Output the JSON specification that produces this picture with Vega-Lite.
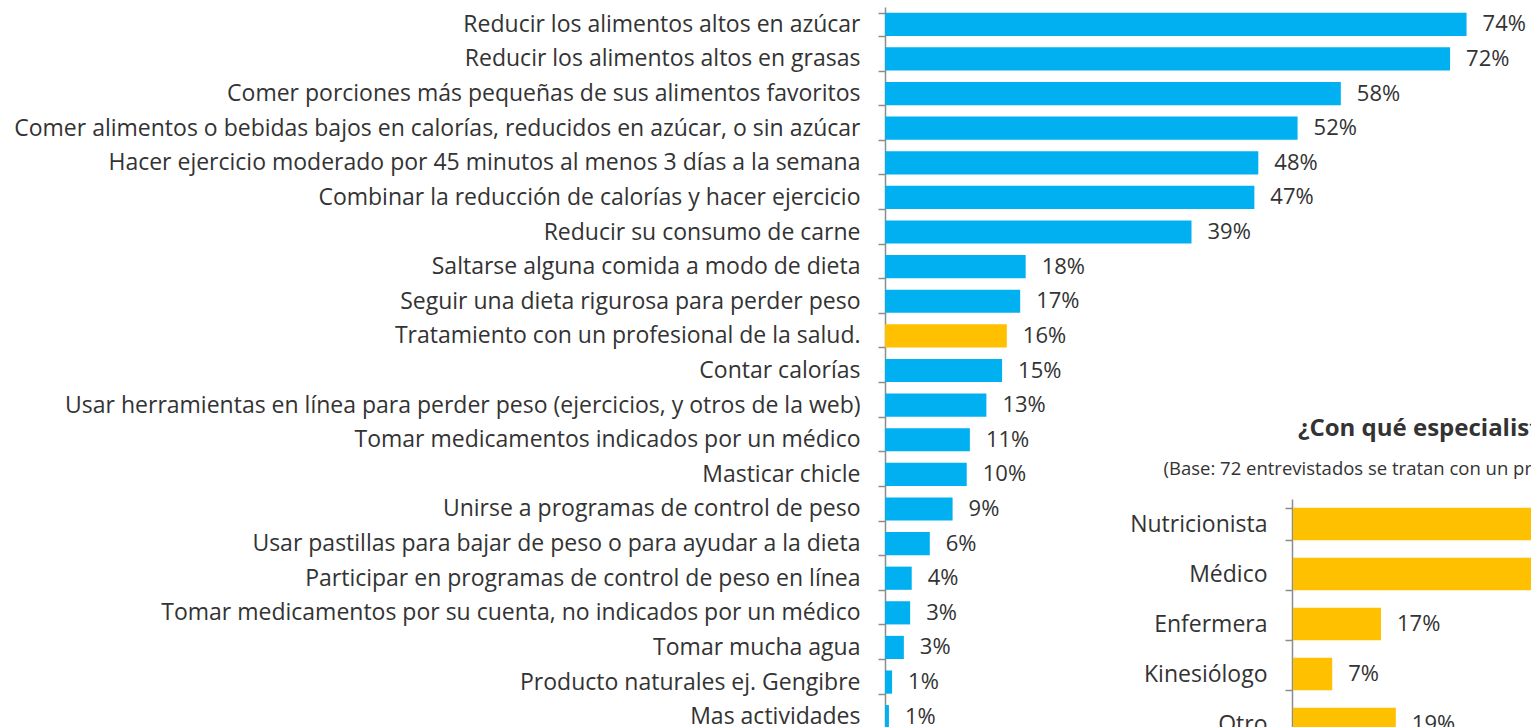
{
  "$schema": "https://vega.github.io/schema/vega-lite/v6.json",
  "width": 646,
  "height": 727,
  "autosize": {"type": "none"},
  "padding": {"left": 885, "top": 7, "right": 0, "bottom": 0},
  "background": "white",
  "config": {
    "view": {"stroke": null},
    "font": "Open Sans",
    "axis": {
      "title": null,
      "domainColor": "#8c8c8c",
      "domainWidth": 1.5,
      "tickColor": "#8c8c8c",
      "tickWidth": 1.5,
      "tickSize": 7,
      "labelPadding": 18,
      "labelFont": "Open Sans",
      "labelFontSize": 23,
      "labelColor": "#333333",
      "labelLimit": 0,
      "grid": false
    }
  },
  "title": {
    "text": "¿Con qué especialista se trata?",
    "frame": "group",
    "anchor": "start",
    "dx": 413,
    "dy": 449,
    "fontSize": 24,
    "fontWeight": "bold",
    "color": "#333333",
    "font": "Open Sans"
  },
  "datasets": {
    "main": [
      {"cat": "Reducir los alimentos altos en azúcar", "value": 74.0, "pct": "74%", "group": "a"},
      {"cat": "Reducir los alimentos altos en grasas", "value": 71.9, "pct": "72%", "group": "a"},
      {"cat": "Comer porciones más pequeñas de sus alimentos favoritos", "value": 58.0, "pct": "58%", "group": "a"},
      {"cat": "Comer alimentos o bebidas bajos en calorías, reducidos en azúcar, o sin azúcar", "value": 52.5, "pct": "52%", "group": "a"},
      {"cat": "Hacer ejercicio moderado por 45 minutos al menos 3 días a la semana", "value": 47.5, "pct": "48%", "group": "a"},
      {"cat": "Combinar la reducción de calorías y hacer ejercicio", "value": 47.0, "pct": "47%", "group": "a"},
      {"cat": "Reducir su consumo de carne", "value": 39.0, "pct": "39%", "group": "a"},
      {"cat": "Saltarse alguna comida a modo de dieta", "value": 17.9, "pct": "18%", "group": "a"},
      {"cat": "Seguir una dieta rigurosa para perder peso", "value": 17.2, "pct": "17%", "group": "a"},
      {"cat": "Tratamiento con un profesional de la salud.", "value": 15.5, "pct": "16%", "group": "b"},
      {"cat": "Contar calorías", "value": 14.9, "pct": "15%", "group": "a"},
      {"cat": "Usar herramientas en línea para perder peso (ejercicios, y otros de la web)", "value": 12.9, "pct": "13%", "group": "a"},
      {"cat": "Tomar medicamentos indicados por un médico", "value": 10.8, "pct": "11%", "group": "a"},
      {"cat": "Masticar chicle", "value": 10.4, "pct": "10%", "group": "a"},
      {"cat": "Unirse a programas de control de peso", "value": 8.6, "pct": "9%", "group": "a"},
      {"cat": "Usar pastillas para bajar de peso o para ayudar a la dieta", "value": 5.7, "pct": "6%", "group": "a"},
      {"cat": "Participar en programas de control de peso en línea", "value": 3.4, "pct": "4%", "group": "a"},
      {"cat": "Tomar medicamentos por su cuenta, no indicados por un médico", "value": 3.2, "pct": "3%", "group": "a"},
      {"cat": "Tomar mucha agua", "value": 2.4, "pct": "3%", "group": "a"},
      {"cat": "Producto naturales ej. Gengibre", "value": 0.9, "pct": "1%", "group": "a"},
      {"cat": "Mas actividades", "value": 0.5, "pct": "1%", "group": "a"}
    ],
    "inset": [
      {"cat": "Nutricionista", "value": 64, "pct": "64%"},
      {"cat": "Médico", "value": 51, "pct": "51%"},
      {"cat": "Enfermera", "value": 16.6, "pct": "17%"},
      {"cat": "Kinesiólogo", "value": 7.4, "pct": "7%"},
      {"cat": "Otro", "value": 19.4, "pct": "19%"}
    ]
  },
  "layer": [
    {
      "data": {"name": "main"},
      "encoding": {
        "y": {
          "field": "cat",
          "type": "nominal",
          "sort": null,
          "scale": {"paddingInner": 0.33, "paddingOuter": 0.165},
          "axis": {"orient": "left", "tickBand": "extent"}
        },
        "x": {
          "field": "value",
          "type": "quantitative",
          "scale": {"domain": [0, 82.2], "nice": false},
          "axis": null
        }
      },
      "layer": [
        {
          "mark": {"type": "bar"},
          "encoding": {
            "color": {
              "field": "group",
              "type": "nominal",
              "scale": {"domain": ["a", "b"], "range": ["#00B0F0", "#FFC000"]},
              "legend": null
            }
          }
        },
        {
          "mark": {"type": "text", "align": "left", "baseline": "middle", "dx": 16, "font": "Open Sans", "fontSize": 22, "color": "#333333"},
          "encoding": {"text": {"field": "pct", "type": "nominal"}}
        }
      ]
    },
    {
      "data": {"name": "inset"},
      "encoding": {
        "y": {
          "field": "cat",
          "type": "nominal",
          "sort": null,
          "scale": {"range": [492, 742], "paddingInner": 0.35, "paddingOuter": 0.175},
          "axis": {"orient": "left", "offset": -407, "tickBand": "extent"}
        },
        "x": {
          "field": "value",
          "type": "quantitative",
          "scale": {"domain": [0, 100], "range": [408, 938], "nice": false},
          "axis": {
            "orient": "top",
            "domain": false,
            "ticks": false,
            "labels": false,
            "grid": false,
            "title": "(Base: 72 entrevistados se tratan con un profesional de la salud)",
            "titleX": 278,
            "titleY": 467,
            "titleAlign": "left",
            "titleAnchor": null,
            "titleBaseline": "alphabetic",
            "titleFont": "Open Sans",
            "titleFontSize": 18.5,
            "titleFontWeight": "normal",
            "titleColor": "#333333"
          }
        }
      },
      "layer": [
        {"mark": {"type": "bar", "color": "#FFC000"}},
        {
          "mark": {"type": "text", "align": "left", "baseline": "middle", "dx": 16, "font": "Open Sans", "fontSize": 22, "color": "#333333"},
          "encoding": {"text": {"field": "pct", "type": "nominal"}}
        }
      ]
    }
  ],
  "resolve": {"scale": {"x": "independent", "y": "independent", "color": "independent"}, "axis": {"x": "independent", "y": "independent"}}
}
